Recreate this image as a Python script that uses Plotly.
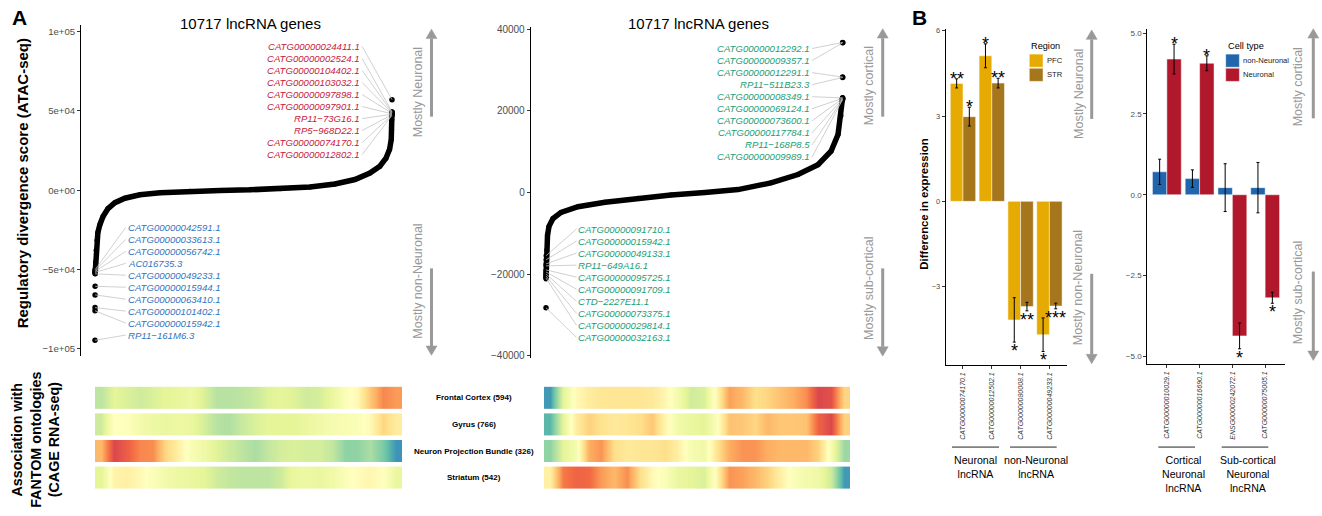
import numpy as np
import plotly.graph_objects as go

W, H = 1322, 516
def px(x): return x / W
def py(y): return 1 - y / H

FONT = "Liberation Sans, Arial, Helvetica, sans-serif"

# ---------------- DATA ----------------
n_genes = 10717
# Panel A left: sorted regulatory divergence score (Neuronal vs non-Neuronal)
left_curve_rank = [6, 20, 40, 70, 105, 180, 290, 470, 720, 1080, 1620, 2350, 3430, 4510,
                   5590, 6680, 7760, 8660, 9380, 9920, 10280, 10500, 10630, 10690, 10705, 10712, 10716]
left_curve_score = [-52700, -45300, -37800, -31600, -26600, -21600, -16600, -11600, -7900, -5100,
                    -2900, -1700, -750, -300, 200, 930, 2050, 3900, 6700, 10800, 15100, 20100,
                    25700, 31900, 38200, 44400, 49300]

neuronal_genes = ["CATG00000024411.1", "CATG00000002524.1", "CATG00000104402.1", "CATG00000103032.1",
                  "CATG00000097898.1", "CATG00000097901.1", "RP11−73G16.1", "RP5−968D22.1",
                  "CATG00000074170.1", "CATG00000012802.1"]
neuronal_rank = [10717, 10716, 10715, 10714, 10713, 10712, 10711, 10710, 10709, 10708]
neuronal_score = [57000, 49300, 49000, 48700, 48400, 48100, 47800, 47500, 47200, 46900]

nonneuronal_genes = ["CATG00000042591.1", "CATG00000033613.1", "CATG00000056742.1", "AC016735.3",
                     "CATG00000049233.1", "CATG00000015944.1", "CATG00000063410.1", "CATG00000101402.1",
                     "CATG00000015942.1", "RP11−161M6.3"]
nonneuronal_rank = [10, 9, 8, 7, 6, 5, 4, 3, 2, 1]
nonneuronal_score = [-50000, -50600, -51200, -51800, -52700, -60600, -66000, -74000, -76000, -94600]

# Panel A middle: cortical vs sub-cortical
mid_curve_rank = [2, 12, 26, 55, 109, 253, 542, 1156, 2132, 3324, 4515, 5743, 6935, 8127,
                  9102, 9825, 10295, 10548, 10655, 10712]
mid_curve_score = [-21200, -17800, -14100, -10500, -8300, -6400, -4900, -3500, -2400, -1400,
                   -600, 0, 700, 2350, 4400, 6800, 10100, 14200, 18800, 23200]

cortical_genes = ["CATG00000012292.1", "CATG00000009357.1", "CATG00000012291.1", "RP11−511B23.3",
                  "CATG00000008349.1", "CATG00000069124.1", "CATG00000073600.1", "CATG00000117784.1",
                  "RP11−168P8.5", "CATG00000009989.1"]
cortical_rank = [10717, 10716, 10715, 10714, 10713, 10712, 10711, 10710, 10709, 10708]
cortical_score = [36800, 36700, 28300, 28200, 23200, 23100, 23000, 22900, 22800, 22700]

subcortical_genes = ["CATG00000091710.1", "CATG00000015942.1", "CATG00000049133.1", "RP11−649A16.1",
                     "CATG00000095725.1", "CATG00000091709.1", "CTD−2227E11.1", "CATG00000073375.1",
                     "CATG00000029814.1", "CATG00000032163.1"]
subcortical_rank = [10, 9, 8, 7, 6, 5, 4, 3, 2, 1]
subcortical_score = [-15500, -16500, -17500, -18000, -19000, -19500, -20000, -20500, -21000, -28300]

# FANTOM ontology association (Spectral index 0=blue ... 8=red), sampled along rank
ontologies = ["Frontal Cortex (594)", "Gyrus (766)", "Neuron Projection Bundle (326)", "Striatum (542)"]
fc_left = [2.3, 3.0, 2.8, 2.6, 2.8, 3.0, 3.1, 3.3, 2.8, 2.2, 2.2, 2.3, 2.5, 2.9, 3.0, 2.9, 2.6, 2.7, 3.2, 3.8, 4.2, 5.5, 6.6, 6.3]
gyrus_left = [2.6, 4.0, 3.9, 3.5, 3.3, 3.2, 3.3, 3.2, 2.7, 2.2, 2.1, 2.5, 2.8, 3.0, 3.0, 3.0, 3.2, 3.4, 3.6, 3.7, 3.8, 4.2, 5.2, 4.6]
npb_left = [5.8, 7.8, 7.3, 6.6, 6.5, 5.2, 4.5, 3.7, 3.4, 2.9, 2.6, 2.3, 2.0, 2.4, 2.7, 2.8, 2.7, 2.7, 2.4, 1.6, 1.6, 2.0, 1.3, 0.2]
str_left = [3.0, 4.4, 4.5, 4.2, 3.8, 3.5, 3.3, 3.2, 3.0, 2.6, 2.4, 2.3, 2.3, 2.3, 2.6, 3.2, 3.3, 3.2, 3.4, 3.8, 4.1, 4.3, 4.0, 3.2]
fc_right = [0.3, 3.0, 4.2, 4.6, 4.8, 4.8, 4.8, 4.8, 4.7, 4.3, 3.5, 2.6, 2.8, 4.2, 6.2, 5.8, 5.0, 5.2, 5.6, 6.0, 6.5, 7.8, 7.6, 5.2]
gyrus_right = [0.8, 3.0, 4.6, 5.3, 4.9, 4.7, 4.8, 5.0, 5.5, 4.3, 3.4, 3.2, 3.0, 3.8, 5.6, 5.5, 5.2, 5.8, 5.5, 5.5, 5.6, 7.2, 7.8, 5.3]
npb_right = [1.6, 3.0, 3.6, 6.0, 6.4, 5.0, 4.7, 4.8, 4.8, 5.0, 4.5, 3.6, 3.4, 4.8, 6.0, 6.4, 6.4, 6.0, 5.8, 5.8, 5.8, 5.3, 3.6, 1.8]
str_right = [4.5, 6.8, 7.2, 7.1, 6.3, 5.8, 6.5, 5.0, 4.2, 3.8, 3.2, 3.0, 2.8, 4.2, 6.4, 6.2, 5.8, 5.3, 4.5, 3.8, 3.5, 3.4, 2.6, 0.3]

# Panel B left: difference in expression by region
region_genes = ["CATG00000074170.1", "CATG00000012502.1", "CATG00000080008.1", "CATG00000049233.1"]
pfc_diff = [4.15, 5.12, -4.17, -4.69]
pfc_err = [0.16, 0.42, 0.78, 0.59]
pfc_sig = ["**", "*", "*", "*"]
str_diff = [2.98, 4.16, -3.70, -3.68]
str_err = [0.33, 0.17, 0.15, 0.10]
str_sig = ["*", "**", "**", "***"]

# Panel B right: difference in expression by cell type
celltype_genes = ["CATG00000010029.1", "CATG00000016690.1", "ENSG00000242072.1", "CATG00000075005.1"]
nonneu_diff = [0.71, 0.50, 0.22, 0.22]
nonneu_err = [0.39, 0.27, 0.74, 0.78]
nonneu_sig = ["", "", "", ""]
neu_diff = [4.20, 4.07, -4.37, -3.19]
neu_err = [0.46, 0.23, 0.40, 0.17]
neu_sig = ["*", "*", "*", "*"]

# ---------------- STYLE ----------------
RED = "#C8203A"
BLUE = "#3274C2"
GREEN = "#1B9E77"
GREY_ARROW = "#999999"
SEG = "#C4C4C4"
spectral = ['#3288BD', '#66C2A5', '#ABDDA4', '#E6F598', '#FFFFBF', '#FEE08B', '#FDAE61', '#F46D43', '#D53E4F']
cscale = [[i / 8, c] for i, c in enumerate(spectral)]

fig = go.Figure()

def add_scatter_panel(xa, ya, crank, cscore, top, bottom, label_cfg, col):
    fig.add_trace(go.Scatter(x=crank, y=cscore, mode='lines+markers',
                             line=dict(color='black', width=5.5), marker=dict(color='black', size=5),
                             xaxis=xa, yaxis=ya, showlegend=False, hoverinfo='skip'))
    (tg, tr, ts), (bg, br, bs) = top, bottom
    fig.add_trace(go.Scatter(x=tr + br, y=ts + bs, mode='markers', marker=dict(color='black', size=5.5),
                             xaxis=xa, yaxis=ya, showlegend=False, hoverinfo='skip'))
    tx, ty0, ty1, bx, by0, by1 = label_cfg
    top_y = np.linspace(ty0, ty1, len(tg))
    bot_y = np.linspace(by0, by1, len(bg))
    sx, sy = [], []
    for r, s, ly in zip(tr, ts, top_y):
        sx += [tx, r, None]; sy += [ly, s, None]
    for r, s, ly in zip(br, bs, bot_y):
        sx += [bx, r, None]; sy += [ly, s, None]
    fig.add_trace(go.Scatter(x=sx, y=sy, mode='lines', line=dict(color=SEG, width=0.8),
                             xaxis=xa, yaxis=ya, showlegend=False, hoverinfo='skip'))
    for g, ly in zip(tg, top_y):
        fig.add_annotation(x=tx, y=ly, xref=xa, yref=ya, text="<i>%s</i>" % g, showarrow=False,
                           xanchor='right', yanchor='middle', font=dict(size=9.6, color=col[0]))
    for g, ly in zip(bg, bot_y):
        fig.add_annotation(x=bx, y=ly, xref=xa, yref=ya, text="<i>%s</i>" % g, showarrow=False,
                           xanchor='left', yanchor='middle', font=dict(size=9.6, color=col[1]))

add_scatter_panel('x', 'y', left_curve_rank, left_curve_score,
                  (neuronal_genes, neuronal_rank, neuronal_score),
                  (nonneuronal_genes, nonneuronal_rank, nonneuronal_score),
                  (9640, 90500, 22400, 1110, -23500, -91300), (RED, BLUE))
add_scatter_panel('x2', 'y2', mid_curve_rank, mid_curve_score,
                  (cortical_genes, cortical_rank, cortical_score),
                  (subcortical_genes, subcortical_rank, subcortical_score),
                  (9610, 35300, 8700, 1100, -8970, -35540), (GREEN, GREEN))

# heatmaps
left_rows = [fc_left, gyrus_left, npb_left, str_left]
right_rows = [fc_right, gyrus_right, npb_right, str_right]
for rows, xa, ya in [(left_rows, 'x5', 'y5'), (right_rows, 'x6', 'y6')]:
    for k, row in enumerate(rows):
        fig.add_trace(go.Heatmap(z=[row, row], x=np.arange(len(row)) + 0.5, y=[k - 0.2075, k + 0.2075],
                                 zsmooth='best', colorscale=cscale, zmin=0, zmax=8, showscale=False,
                                 xaxis=xa, yaxis=ya, hoverinfo='skip'))
for k, name in enumerate(ontologies):
    fig.add_annotation(x=px(474), y=k, xref='paper', yref='y5', text="<b>%s</b>" % name, showarrow=False,
                       font=dict(size=8, color='black'), xanchor='center', yanchor='middle')

# bars
def add_bars(xa, ya, d1, e1, c1, n1, d2, e2, c2, n2, s1, s2):
    for d, e, c, n in [(d1, e1, c1, n1), (d2, e2, c2, n2)]:
        fig.add_trace(go.Bar(x=[0, 1, 2, 3], y=d, name=n, marker=dict(color=c, line=dict(color='rgba(255,255,255,0.6)', width=0.8)),
                             error_y=dict(type='data', array=e, thickness=1, width=1.5, color='black'),
                             xaxis=xa, yaxis=ya, showlegend=False, hoverinfo='skip'))
    for off, d, e, s in [(-0.22, d1, e1, s1), (0.22, d2, e2, s2)]:
        for i in range(4):
            if not s[i]:
                continue
            end = d[i] + e[i] if d[i] > 0 else d[i] - e[i]
            fig.add_annotation(x=i + off, y=end, xref=xa, yref=ya, text=s[i], showarrow=False,
                               xanchor='center', yanchor='middle', yshift=0 if d[i] > 0 else -9,
                               font=dict(size=18, color='black'))

add_bars('x3', 'y3', pfc_diff, pfc_err, '#E6AB02', 'PFC', str_diff, str_err, '#A6761D', 'STR', pfc_sig, str_sig)
add_bars('x4', 'y4', nonneu_diff, nonneu_err, '#2166AC', 'non-Neuronal', neu_diff, neu_err, '#B2182B', 'Neuronal', nonneu_sig, neu_sig)

# ---------------- AXES ----------------
tickfont_a = dict(size=9.6, color='#4D4D4D')
common_y = dict(showline=True, linecolor='black', linewidth=1, ticks='outside', ticklen=3, tickcolor='#333',
                showgrid=False, zeroline=False)
fig.update_layout(
    xaxis=dict(domain=[px(81), px(440)], range=[-504, 12449], visible=False, anchor='y'),
    yaxis=dict(domain=[py(357), py(22)], range=[-104400, 104200], anchor='x',
               tickvals=[-100000, -50000, 0, 50000, 100000],
               ticktext=['−1e+05', '−5e+04', '0e+00', '5e+04', '1e+05'], tickfont=tickfont_a, **common_y),
    xaxis2=dict(domain=[px(530.7), px(895)], range=[-552, 12606], visible=False, anchor='y2'),
    yaxis2=dict(domain=[py(359), py(24)], range=[-40560, 40650], anchor='x2',
                tickvals=[-40000, -20000, 0, 20000, 40000],
                ticktext=['−40000', '−20000', '0', '20000', '40000'], tickfont=dict(size=10, color='#4D4D4D'), **common_y),
    xaxis3=dict(domain=[px(945.7), px(1066.7)], range=[-0.6, 3.6], anchor='y3', tickvals=[0, 1, 2, 3],
                ticktext=["<i>%s</i>" % g for g in region_genes], tickangle=-90,
                tickfont=dict(size=7, color='#333'), **common_y),
    yaxis3=dict(domain=[py(366.7), py(26.7)], range=[-5.771, 6.049], anchor='x3', tickvals=[-3, 0, 3, 6],
                ticktext=['−3', '0', '3', '6'], tickfont=dict(size=7.5, color='#4D4D4D'), **common_y),
    xaxis4=dict(domain=[px(1147.2), px(1284.8)], range=[-0.6, 3.6], anchor='y4', tickvals=[0, 1, 2, 3],
                ticktext=["<i>%s</i>" % g for g in celltype_genes], tickangle=-90,
                tickfont=dict(size=7, color='#333'), **common_y),
    yaxis4=dict(domain=[py(365.7), py(26.7)], range=[-5.254, 5.119], anchor='x4', tickvals=[-5, -2.5, 0, 2.5, 5],
                ticktext=['−5.0', '−2.5', '0.0', '2.5', '5.0'], tickfont=dict(size=8, color='#4D4D4D'), **common_y),
    xaxis5=dict(domain=[px(95), px(402.3)], range=[0, 24], visible=False, anchor='y5'),
    yaxis5=dict(domain=[py(493.65), py(386.05)], range=[3.5, -0.5], visible=False, anchor='x5'),
    xaxis6=dict(domain=[px(544), px(850.3)], range=[0, 24], visible=False, anchor='y6'),
    yaxis6=dict(domain=[py(493.65), py(386.05)], range=[3.5, -0.5], visible=False, anchor='x6'),
)

# ---------------- DECORATION ----------------
shapes = []
def arrow(x, tip, tail, up=True, col=GREY_ARROW):
    head = 9.5
    base = tip + head if up else tip - head
    shapes.append(dict(type='line', xref='paper', yref='paper', x0=px(x), x1=px(x), y0=py(tail), y1=py(base),
                       line=dict(color=col, width=3)))
    shapes.append(dict(type='path', xref='paper', yref='paper',
                       path="M %f,%f L %f,%f L %f,%f Z" % (px(x), py(tip), px(x - 5.5), py(base), px(x + 5.5), py(base)),
                       fillcolor=col, line=dict(color=col, width=0.5)))

for x, ut, ub, dt, db in [(431.5, 26.5, 115, 268.5, 356.5), (882.7, 26, 115, 268.5, 357.3),
                          (1091.7, 27.3, 117.3, 274, 365), (1313.3, 26, 116.7, 271.7, 361.7)]:
    arrow(x, ut, ub, True)
    arrow(x, db, dt, False)

def vtext(x, y, t, size=12.5, col='#999999', bold=False):
    fig.add_annotation(x=px(x), y=py(y), xref='paper', yref='paper', text=("<b>%s</b>" % t) if bold else t,
                       textangle=-90, showarrow=False, xanchor='center', yanchor='middle',
                       font=dict(size=size, color=col))

vtext(418.3, 90, "Mostly Neuronal")
vtext(418.3, 281.7, "Mostly non-Neuronal")
vtext(869, 84.2, "Mostly cortical")
vtext(869, 288.3, "Mostly sub-cortical")
vtext(1078.3, 91.7, "Mostly Neuronal")
vtext(1078.3, 288.3, "Mostly non-Neuronal")
vtext(1298.3, 85, "Mostly cortical")
vtext(1298.3, 292.3, "Mostly sub-cortical")

vtext(22.5, 183, "Regulatory divergence score (ATAC-seq)", size=15, col='black', bold=True)
vtext(924, 203, "Difference in expression", size=11.3, col='black', bold=True)
vtext(36, 442, "Association with<br>FANTOM ontologies<br>(CAGE RNA-seq)", size=14.3, col='black', bold=True)

def htext(x, y, t, size, col='black', xanchor='center', yanchor='middle', bold=False):
    fig.add_annotation(x=px(x), y=py(y), xref='paper', yref='paper', text=("<b>%s</b>" % t) if bold else t,
                       showarrow=False, xanchor=xanchor, yanchor=yanchor, font=dict(size=size, color=col))

htext(19, 15, "A", 21, bold=True)
htext(919, 15, "B", 21, bold=True)
htext(250.3, 21, "10717 lncRNA genes", 15)
htext(698.7, 21, "10717 lncRNA genes", 15)

# legends (drawn)
def legend(x0, title, items):
    htext(x0, 44, title, 9.2, xanchor='left')
    for j, (lab, col) in enumerate(items):
        y0 = 51.7 + j * 14.3
        shapes.append(dict(type='rect', xref='paper', yref='paper', x0=px(x0), x1=px(x0 + 13.7),
                           y0=py(y0 + 13.3), y1=py(y0), fillcolor=col, line=dict(color='rgba(255,255,255,0.6)', width=0.8)))
        htext(x0 + 15.5, y0 + 6.6, lab, 7.6, col='#222', xanchor='left')

legend(1029.3, "Region", [("PFC", '#E6AB02'), ("STR", '#A6761D')])
legend(1225.7, "Cell type", [("non-Neuronal", '#2166AC'), ("Neuronal", '#B2182B')])

# group brackets
for x0, x1, xc, lab in [(952, 999, 975.5, "Neuronal<br>lncRNA"), (1010, 1056.7, 1036, "non-Neuronal<br>lncRNA"),
                        (1158.3, 1195, 1183.3, "Cortical<br>Neuronal<br>lncRNA"),
                        (1221.7, 1268.3, 1248, "Sub-cortical<br>Neuronal<br>lncRNA")]:
    shapes.append(dict(type='line', xref='paper', yref='paper', x0=px(x0), x1=px(x1), y0=py(449.3), y1=py(449.3),
                       line=dict(color='#222', width=1)))
    htext(xc, 454.5, lab, 10.6, yanchor='top')

fig.update_layout(
    shapes=shapes,
    width=W, height=H, margin=dict(l=0, r=0, t=0, b=0),
    paper_bgcolor='white', plot_bgcolor='white',
    font=dict(family=FONT, color='black'),
    barmode='group', bargap=0.12, bargroupgap=0,
    showlegend=False,
)

fig.write_html("out.html", config={'displayModeBar': False},
               post_script="document.body.style.margin='0';document.body.style.overflow='hidden';")
